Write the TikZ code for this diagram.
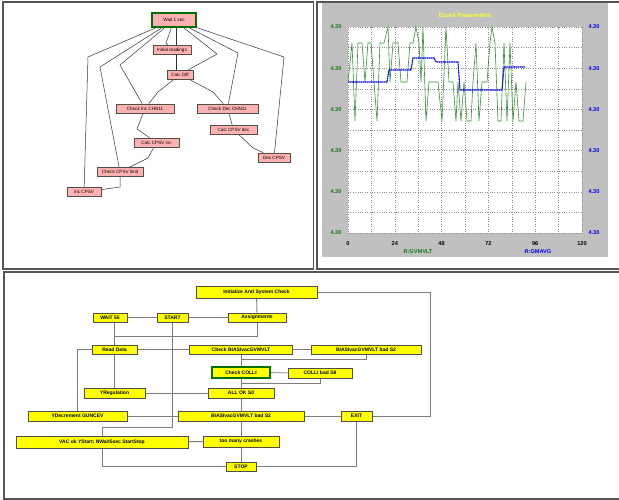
\documentclass[tikz,border=0pt]{standalone}
\usepackage{fontspec}
\setmainfont{Liberation Sans}
\usepackage{xcolor}
\usepackage{tikz}
\usetikzlibrary{backgrounds}
\definecolor{framegray}{RGB}{85, 85, 85}
\definecolor{wiregray}{RGB}{125, 125, 125}
\definecolor{boxline}{RGB}{80, 80, 70}
\definecolor{pinkfill}{RGB}{255, 176, 176}
\definecolor{yelfill}{RGB}{255, 255, 0}
\definecolor{okgreen}{RGB}{0, 112, 0}
\definecolor{chartgray}{RGB}{192, 192, 192}
\definecolor{plotgreen}{RGB}{50, 145, 50}
\definecolor{labgreen}{RGB}{20, 120, 20}
\definecolor{plotblue}{RGB}{0, 0, 235}
\definecolor{titleyel}{RGB}{255, 255, 40}
\tikzset{
    panel/.style  ={draw=framegray, line width=1.4pt},
    pbox/.style   ={draw=boxline, line width=0.6pt, fill=pinkfill, inner sep=0pt,
                    minimum height=9pt, font=\fontsize{4.6}{5}\selectfont},
    ybox/.style   ={draw=boxline, line width=0.7pt, fill=yelfill, inner sep=0pt,
                    minimum height=9pt, font=\fontsize{5}{6}\selectfont\bfseries},
    cur/.style    ={draw=okgreen, line width=2.2pt},
    tl/.style     ={draw=black!80, line width=0.5pt},
    wire/.style   ={draw=wiregray, line width=0.9pt},
    grid/.style   ={draw=black!45, line width=0.4pt, dotted},
    axlab/.style  ={font=\fontsize{5.6}{6}\selectfont\bfseries, inner sep=0pt}
}

\begin{document}
\begin{tikzpicture}[x=1pt, y=-1pt]
  \useasboundingbox (0,0) rectangle (619,500);
  \clip (0,0) rectangle (619,500);

  % panels
  \draw[panel] (3,2) rectangle (313.5,269);
  \draw[panel] (317,2) rectangle (630,269);
  \draw[panel] (4,272) rectangle (630,499);

  % task graph
  \node[pbox, cur, minimum width=44pt, minimum height=14pt] (wait1) at (174,20) {Wait 1 sec};
  \node[pbox, minimum width=38pt] (initread) at (172,50)   {Initial readings};
  \node[pbox, minimum width=26pt] (calcdiff) at (180,74.5) {Calc Diff};
  \node[pbox, minimum width=58pt] (chkinc)   at (145,108.5) {Check Inc CHN11};
  \node[pbox, minimum width=61pt] (chkdec)   at (227.5,108.5) {Check Dec CHN11};
  \node[pbox, minimum width=47pt] (cpsvdec)  at (233.5,129.5) {Calc CPSV dec};
  \node[pbox, minimum width=45pt] (cpsvinc)  at (156.5,142.5) {Calc CPSV inc};
  \node[pbox, minimum width=32pt] (deccpsv)  at (274,157.5) {Dec CPSV};
  \node[pbox, minimum width=46pt] (cpsvlim)  at (120,172)   {Check CPSV limit};
  \node[pbox, minimum width=34pt] (inccpsv)  at (84,192)    {Inc CPSV};

  \begin{scope}[on background layer]
    \draw[tl] (wait1) -- (88,57) -- (inccpsv);
    \draw[tl] (wait1) -- (100,67) -- (cpsvlim);
    \draw[tl] (wait1) -- (120,65) -- (chkinc);
    \draw[tl] (wait1) -- (166,43) -- (initread);
    \draw[tl] ([xshift=2pt]wait1.south) -- ([xshift=-4pt]calcdiff.north);
    \draw[tl] (wait1) -- (217,54) -- (calcdiff);
    \draw[tl] (wait1) -- (238,53) -- (chkdec);
    \draw[tl] (wait1) -- (284,57) -- (deccpsv);
    \draw[tl] (calcdiff) -- (158,92) -- (chkinc);
    \draw[tl] (calcdiff) -- (213,92) -- (chkdec);
    \draw[tl] (chkinc) -- (137,129) -- (cpsvinc);
    \draw[tl] (cpsvinc) -- (148,158) -- (cpsvlim);
    \draw[tl] (cpsvlim) -- (120,187) -- (inccpsv);
    \draw[tl] (chkdec) -- (cpsvdec);
    \draw[tl] (cpsvdec) -- (253,148) -- (deccpsv);
  \end{scope}

  % chart
  \fill[chartgray] (322,3.5) rectangle (608,257);
  \fill[white] (348,27) rectangle (582,233);
  \foreach \i in {0,...,10}
    \draw[grid] ({348+23.4*\i},27) -- ({348+23.4*\i},233);
  \foreach \j in {0,...,10}
    \draw[grid] (348,{27+20.6*\j}) -- (582,{27+20.6*\j});
  \node[axlab, text=titleyel, font=\fontsize{6.2}{7}\selectfont\bfseries] (ctitle) at (465,15) {Ecool Parameters};
  \foreach \j in {0,...,5} {
    \node[axlab, text=labgreen] (yl\j) at (336,{27+41.2*\j}) {4.30};
    \node[axlab, text=plotblue] (yr\j) at (594,{27+41.2*\j}) {4.30};
  }
  \foreach \v [count=\k from 0] in {0,24,48,72,96,120}
    \node[axlab] (xl\k) at ({348+46.8*\k},243.5) {\v};
  \node[axlab, text=labgreen] (leg1) at (418,251.5) {R:GVMVLT};
  \node[axlab, text=plotblue] (leg2) at (538,251.5) {R:GMAVG};

  \draw[plotgreen, line width=0.6pt] plot coordinates {
    (348,82) (352,43) (355,121) (358,43) (362,43) (365,82) (368,43) (371,43)
    (374,82) (377,121) (380,43) (384,43) (388,27) (390,82) (393,43) (398,43)
    (401,82) (407,82) (410,43) (413,43) (416,27) (419,43) (421,82) (423,27)
    (426,121) (429,82) (438,82) (442,121) (446,27) (449,82) (453,82) (456,121)
    (458,82) (461,121) (464,82) (467,121) (471,121) (473,82) (476,43) (479,121)
    (482,82) (487,82) (490,43) (492,27) (495,43) (498,121) (501,121) (504,43)
    (507,121) (510,43) (513,121) (516,82) (519,121) (523,121) (526,82)};
  \draw[plotblue, line width=1.1pt, dash pattern=on 1.6pt off 0.5pt] plot coordinates {
    (348,82) (387,82) (389,70) (411,70) (413,58) (434,58) (436,62) (458,62)
    (460,90) (502,90) (504,67) (525,67)};

  % flow chart
  \node[ybox, minimum width=121pt, minimum height=12pt] (init) at (256.5,292) {Initialize And System Check};
  \node[ybox, minimum width=34pt]  (wait55)   at (110,317.5)   {WAIT 55};
  \node[ybox, minimum width=31pt]  (start)    at (172.5,317.5) {START};
  \node[ybox, minimum width=58pt]  (assign)   at (257,317.5)   {Assignments};
  \node[ybox, minimum width=45pt]  (readdata) at (114.5,349.5) {Read Data};
  \node[ybox, minimum width=103pt] (checkbias) at (241,349.5)  {Check BIASIvacGVMVLT};
  \node[ybox, minimum width=110pt] (biasbad1) at (366,349.5)   {BIASIvacGVMVLT bad S2};
  \node[ybox, cur, minimum width=58pt, minimum height=11pt] (checkcolli) at (241,372.5) {Check COLLI};
  \node[ybox, minimum width=64pt, minimum height=10pt] (collibad) at (320,373) {COLLI bad S8};
  \node[ybox, minimum width=61pt, minimum height=10pt] (yreg)     at (114.5,393) {YRegulation};
  \node[ybox, minimum width=66pt, minimum height=10pt] (allok)    at (241,393)   {ALL OK S0};
  \node[ybox, minimum width=99pt, minimum height=10pt] (ydec)     at (77.5,416)  {YDecrement GUNCEV};
  \node[ybox, minimum width=126pt, minimum height=10pt] (biasbad2) at (241,416)  {BIASIvacGVMVLT bad S2};
  \node[ybox, minimum width=31pt, minimum height=10pt] (exit)     at (356.5,416) {EXIT};
  \node[ybox, minimum width=172pt, minimum height=12pt] (vacok)   at (102,442)   {VAC ok YStart; NWait5sec StartStop};
  \node[ybox, minimum width=76pt, minimum height=11pt] (crashes)  at (241,441.5) {too many crashes};
  \node[ybox, minimum width=30pt]  (stop)     at (241,466.5)   {STOP};

  \begin{scope}[on background layer]
    \draw[wire] (init) -- (assign);
    \draw[wire] (wait55) -- (start);
    \draw[wire] (start) -- (assign);
    \draw[wire] (readdata.north) -- (readdata.north |- wait55.south);
    \draw[wire] (assign.south) -- ++(0,14) -| (readdata.north);
    \draw[wire] (start.south) -- ++(0,105) -| (vacok.north);
    \draw[wire] (readdata) -- (checkbias);
    \draw[wire] (readdata.west) -| (ydec.north);
    \draw[wire] (readdata) -- (yreg);
    \draw[wire] (checkbias) -- (biasbad1);
    \draw[wire] (biasbad1.south) -- ++(0,5) -| (checkcolli.north);
    \draw[wire] (checkbias) -- (checkcolli);
    \draw[wire] (checkcolli) -- (collibad);
    \draw[wire] (collibad.south) -- ++(0,5) -| (allok.north);
    \draw[wire] (checkcolli) -- (allok);
    \draw[wire] (yreg) -- (allok);
    \draw[wire] (allok) -- (biasbad2);
    \draw[wire] (ydec) -- (biasbad2);
    \draw[wire] (biasbad2) -- (exit);
    \draw[wire] (exit.east) -- ++(58,0) |- (init.east);
    \draw[wire] (biasbad2) -- (crashes);
    \draw[wire] (vacok) -- (crashes);
    \draw[wire] (crashes) -- (stop);
    \draw[wire] (vacok.south) |- (stop.west);
    \draw[wire] (stop.east) -| (exit.south);
  \end{scope}
\end{tikzpicture}
\end{document}
